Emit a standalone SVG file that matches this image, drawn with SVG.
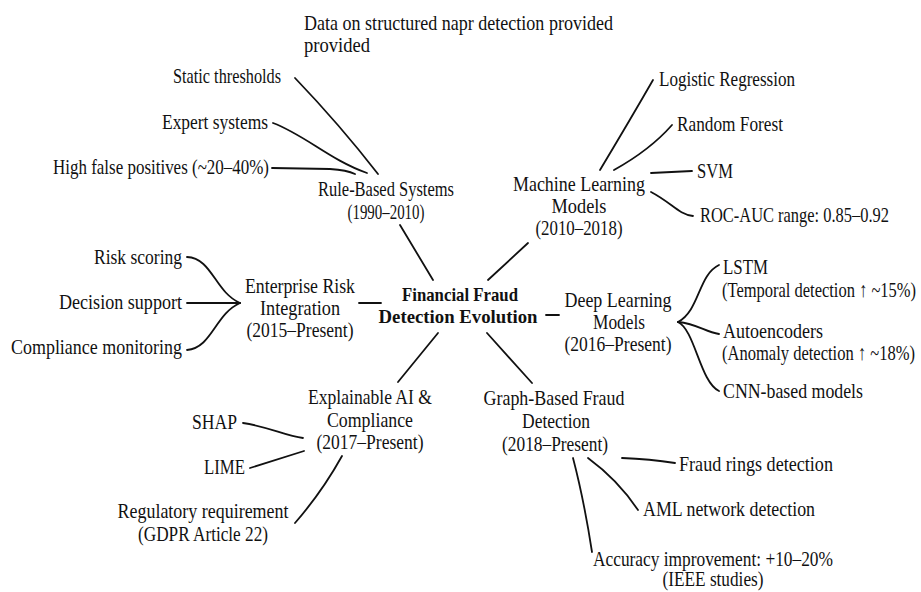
<svg xmlns="http://www.w3.org/2000/svg" width="921" height="592" viewBox="0 0 921 592">
<style>
text{font-family:"Liberation Serif","Times New Roman",serif;font-size:21px;fill:#111;}
.c{text-anchor:middle;}
.b{font-weight:bold;font-size:19.5px;}
.ln{fill:none;stroke:#111;stroke-width:1.8;stroke-linecap:round;}
</style>
<rect width="921" height="592" fill="#fff"/>
<g id="connectors" class="ln">
<path d="M295,78 Q340,125 378,174"/>
<path d="M273,123 C305,135 330,160 367,173"/>
<path d="M272,168 L330,169 Q347,170 355,174"/>
<path d="M400,225 L433,280"/>
<path d="M600,170 Q630,120 653,80"/>
<path d="M614,170 Q650,150 672,125"/>
<path d="M651,173 L692,171"/>
<path d="M651,192 C672,203 678,214 693,216"/>
<path d="M528,243 L488,280"/>
<path d="M546,315 L559,315"/>
<path d="M678,322 C700,310 698,275 719,265"/>
<path d="M678,322 C698,324 705,332 719,334"/>
<path d="M678,322 C695,330 700,382 719,391"/>
<path d="M359,303 L381,303"/>
<path d="M187,257 C212,258 215,292 240,303"/>
<path d="M187,303 L240,303"/>
<path d="M187,350 C212,348 215,314 240,303"/>
<path d="M438,333 L398,382"/>
<path d="M243,423 C270,427 285,436 303,438"/>
<path d="M250,468 L304,451"/>
<path d="M295,523 Q322,492 342,456"/>
<path d="M487,333 L532,383"/>
<path d="M622,458 Q650,459 675,463"/>
<path d="M588,458 Q618,480 638,510"/>
<path d="M573,458 Q584,500 592,552"/>
</g>
<g id="note">
<text x="304" y="30" textLength="309" lengthAdjust="spacingAndGlyphs">Data on structured napr detection provided</text>
<text x="304" y="52" textLength="66" lengthAdjust="spacingAndGlyphs">provided</text>
</g>
<g id="center">
<text class="c b" x="460" y="301" textLength="116" lengthAdjust="spacingAndGlyphs">Financial Fraud</text>
<text class="c b" x="458" y="323" textLength="159" lengthAdjust="spacingAndGlyphs">Detection Evolution</text>
</g>
<g id="rule-based">
<text class="c" x="386" y="196" textLength="136" lengthAdjust="spacingAndGlyphs">Rule-Based Systems</text>
<text class="c" x="386" y="219" textLength="77" lengthAdjust="spacingAndGlyphs">(1990–2010)</text>
</g>
<g id="static-thresholds"><text x="173" y="83" textLength="108" lengthAdjust="spacingAndGlyphs">Static thresholds</text></g>
<g id="expert-systems"><text x="162" y="129" textLength="106" lengthAdjust="spacingAndGlyphs">Expert systems</text></g>
<g id="high-false-positives"><text x="53" y="174" textLength="216" lengthAdjust="spacingAndGlyphs">High false positives (~20–40%)</text></g>
<g id="machine-learning">
<text class="c" x="579" y="191" textLength="132" lengthAdjust="spacingAndGlyphs">Machine Learning</text>
<text class="c" x="579" y="213" textLength="55" lengthAdjust="spacingAndGlyphs">Models</text>
<text class="c" x="579" y="235" textLength="87" lengthAdjust="spacingAndGlyphs">(2010–2018)</text>
</g>
<g id="logistic-regression"><text x="659" y="86" textLength="136" lengthAdjust="spacingAndGlyphs">Logistic Regression</text></g>
<g id="random-forest"><text x="677" y="131" textLength="106" lengthAdjust="spacingAndGlyphs">Random Forest</text></g>
<g id="svm"><text x="697" y="178" textLength="36" lengthAdjust="spacingAndGlyphs">SVM</text></g>
<g id="roc-auc"><text x="700" y="222" textLength="189" lengthAdjust="spacingAndGlyphs">ROC-AUC range: 0.85–0.92</text></g>
<g id="deep-learning">
<text class="c" x="618" y="307" textLength="107" lengthAdjust="spacingAndGlyphs">Deep Learning</text>
<text class="c" x="619" y="329" textLength="52" lengthAdjust="spacingAndGlyphs">Models</text>
<text class="c" x="618" y="351" textLength="107" lengthAdjust="spacingAndGlyphs">(2016–Present)</text>
</g>
<g id="lstm">
<text x="723" y="274" textLength="45" lengthAdjust="spacingAndGlyphs">LSTM</text>
<text x="722" y="297" textLength="194" lengthAdjust="spacingAndGlyphs">(Temporal detection ↑ ~15%)</text>
</g>
<g id="autoencoders">
<text x="723" y="338" textLength="100" lengthAdjust="spacingAndGlyphs">Autoencoders</text>
<text x="722" y="360" textLength="193" lengthAdjust="spacingAndGlyphs">(Anomaly detection ↑ ~18%)</text>
</g>
<g id="cnn"><text x="723" y="398" textLength="140" lengthAdjust="spacingAndGlyphs">CNN-based models</text></g>
<g id="enterprise-risk">
<text class="c" x="300" y="293" textLength="110" lengthAdjust="spacingAndGlyphs">Enterprise Risk</text>
<text class="c" x="300" y="315" textLength="80" lengthAdjust="spacingAndGlyphs">Integration</text>
<text class="c" x="300" y="337" textLength="107" lengthAdjust="spacingAndGlyphs">(2015–Present)</text>
</g>
<g id="risk-scoring"><text x="94" y="264" textLength="88" lengthAdjust="spacingAndGlyphs">Risk scoring</text></g>
<g id="decision-support"><text x="59" y="309" textLength="123" lengthAdjust="spacingAndGlyphs">Decision support</text></g>
<g id="compliance-monitoring"><text x="11" y="354" textLength="171" lengthAdjust="spacingAndGlyphs">Compliance monitoring</text></g>
<g id="explainable-ai">
<text class="c" x="370" y="404" textLength="124" lengthAdjust="spacingAndGlyphs">Explainable AI &amp;</text>
<text class="c" x="370" y="427" textLength="86" lengthAdjust="spacingAndGlyphs">Compliance</text>
<text class="c" x="370" y="449" textLength="107" lengthAdjust="spacingAndGlyphs">(2017–Present)</text>
</g>
<g id="shap"><text x="192" y="429" textLength="45" lengthAdjust="spacingAndGlyphs">SHAP</text></g>
<g id="lime"><text x="204" y="474" textLength="41" lengthAdjust="spacingAndGlyphs">LIME</text></g>
<g id="regulatory">
<text class="c" x="203" y="518" textLength="171" lengthAdjust="spacingAndGlyphs">Regulatory requirement</text>
<text class="c" x="203" y="541" textLength="130" lengthAdjust="spacingAndGlyphs">(GDPR Article 22)</text>
</g>
<g id="graph-based">
<text class="c" x="554" y="405" textLength="141" lengthAdjust="spacingAndGlyphs">Graph-Based Fraud</text>
<text class="c" x="556" y="428" textLength="68" lengthAdjust="spacingAndGlyphs">Detection</text>
<text class="c" x="555" y="451" textLength="106" lengthAdjust="spacingAndGlyphs">(2018–Present)</text>
</g>
<g id="fraud-rings"><text x="679" y="471" textLength="154" lengthAdjust="spacingAndGlyphs">Fraud rings detection</text></g>
<g id="aml"><text x="643" y="516" textLength="172" lengthAdjust="spacingAndGlyphs">AML network detection</text></g>
<g id="accuracy">
<text class="c" x="713" y="566" textLength="240" lengthAdjust="spacingAndGlyphs">Accuracy improvement: +10–20%</text>
<text class="c" x="713" y="586" textLength="101" lengthAdjust="spacingAndGlyphs">(IEEE studies)</text>
</g>
</svg>
